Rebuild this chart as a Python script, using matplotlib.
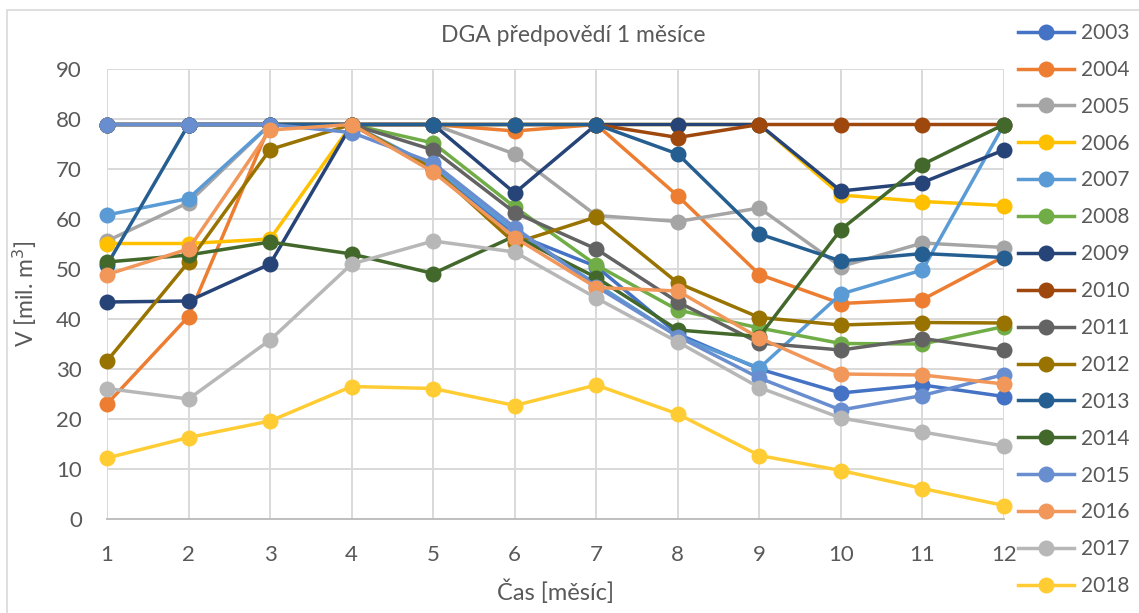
import matplotlib
matplotlib.use("Agg")
import matplotlib.pyplot as plt
from matplotlib.patches import Rectangle

# ---- data ----
months = [1, 2, 3, 4, 5, 6, 7, 8, 9, 10, 11, 12]
years = ["2003", "2004", "2005", "2006", "2007", "2008", "2009", "2010",
         "2011", "2012", "2013", "2014", "2015", "2016", "2017", "2018"]

v2003 = [78.9, 78.9, 78.9, 78.9, 70.0, 57.0, 50.5, 37.0, 30.0, 25.2, 26.8, 24.5]
v2004 = [23.0, 40.5, 78.9, 78.9, 78.9, 77.6, 78.9, 64.6, 48.9, 43.1, 43.9, 52.5]
v2005 = [55.6, 63.3, 78.9, 78.9, 78.9, 73.0, 60.7, 59.5, 62.2, 50.5, 55.2, 54.3]
v2006 = [55.1, 55.1, 56.0, 78.9, 78.9, 78.9, 78.9, 78.9, 78.9, 64.8, 63.5, 62.7]
v2007 = [60.8, 64.1, 78.9, 78.9, 70.5, 57.5, 47.0, 36.5, 30.2, 45.0, 49.8, 78.9]
v2008 = [78.9, 78.9, 78.9, 78.9, 75.2, 62.4, 50.8, 41.8, 38.2, 35.1, 35.0, 38.5]
v2009 = [43.4, 43.6, 51.0, 78.9, 78.9, 65.2, 78.9, 78.9, 78.9, 65.6, 67.3, 73.8]
v2010 = [78.9, 78.9, 78.9, 78.9, 78.9, 78.9, 78.9, 76.3, 78.9, 78.9, 78.9, 78.9]
v2011 = [78.9, 78.9, 78.9, 78.9, 73.8, 61.3, 54.0, 43.4, 35.2, 33.8, 36.1, 33.8]
v2012 = [31.6, 51.4, 73.9, 78.9, 70.0, 55.2, 60.4, 47.2, 40.3, 38.8, 39.3, 39.2]
v2013 = [50.8, 78.9, 78.9, 78.9, 78.9, 78.9, 78.9, 73.0, 57.0, 51.6, 53.1, 52.3]
v2014 = [51.4, 52.8, 55.4, 53.0, 49.1, 56.6, 48.3, 37.8, 36.5, 57.9, 70.9, 78.9]
v2015 = [78.9, 78.9, 78.9, 77.3, 71.2, 58.3, 46.5, 36.5, 28.2, 21.8, 24.7, 28.9]
v2016 = [48.9, 54.0, 77.8, 78.9, 69.4, 56.3, 46.3, 45.6, 36.2, 29.0, 28.8, 27.0]
v2017 = [26.1, 24.0, 35.8, 51.0, 55.6, 53.4, 44.2, 35.4, 26.3, 20.2, 17.4, 14.6]
v2018 = [12.2, 16.3, 19.6, 26.5, 26.1, 22.7, 26.8, 21.0, 12.7, 9.7, 6.1, 2.7]

series = [v2003, v2004, v2005, v2006, v2007, v2008, v2009, v2010,
          v2011, v2012, v2013, v2014, v2015, v2016, v2017, v2018]

# Excel office palette (+ darker / lighter variants)
colors = ["#4472C4", "#ED7D31", "#A5A5A5", "#FFC000", "#5B9BD5", "#70AD47",
          "#264478", "#9E480E", "#636363", "#997300", "#255E91", "#43682B",
          "#698ED0", "#F1975A", "#B7B7B7", "#FFCD33"]

TXT = "#595959"
GRID = "#D9D9D9"
plt.rcParams["font.family"] = ["Lato", "DejaVu Sans"]

W, H = 1139, 613
fig = plt.figure(figsize=(W / 100, H / 100), dpi=100)

# chart border (Excel chart area)
fig.patches.append(Rectangle((7 / W, -0.05), 1.1, 1 - 10 / H + 0.05,
                             transform=fig.transFigure, fill=False,
                             edgecolor=GRID, linewidth=1.2))

ax = fig.add_axes([107 / W, 1 - 519 / H, (1004 - 107) / W, (519 - 69) / H])

for yr, vals, c in zip(years, series, colors):
    ax.plot(months, vals, color=c, linewidth=2.5, marker="o", markersize=11.5,
            markeredgewidth=0, label=yr, clip_on=False)

ax.set_xlim(1, 12)
ax.set_ylim(0, 90)
ax.set_xticks(months)
ax.set_yticks(range(0, 91, 10))
ax.grid(True, color=GRID, linewidth=1.4)
ax.set_axisbelow(True)
for s in ["top", "right", "left"]:
    ax.spines[s].set_visible(False)
ax.spines["bottom"].set_color("#BFBFBF")
ax.spines["bottom"].set_linewidth(1.4)
ax.tick_params(length=0, labelsize=16, labelcolor=TXT)
ax.tick_params(axis="y", pad=18)
ax.tick_params(axis="x", pad=19)

ax.set_xlabel("Čas [měsíc]", fontsize=17, color=TXT, labelpad=10)
ax.set_ylabel("V [mil. m$^3$]", fontsize=16.5, color=TXT, labelpad=12)

fig.text(573 / W, 1 - 35 / H, "DGA předpovědí 1 měsíce", fontsize=16.5,
         color=TXT, ha="center", va="center")

leg = fig.legend(loc="upper left", bbox_to_anchor=(1018 / W, 1 - 23 / H),
                 frameon=False, fontsize=15, labelspacing=0.81,
                 handlelength=2.7, handletextpad=0.3, borderpad=0,
                 borderaxespad=0)
for t in leg.get_texts():
    t.set_color(TXT)

fig.savefig("out.png", dpi=100)
